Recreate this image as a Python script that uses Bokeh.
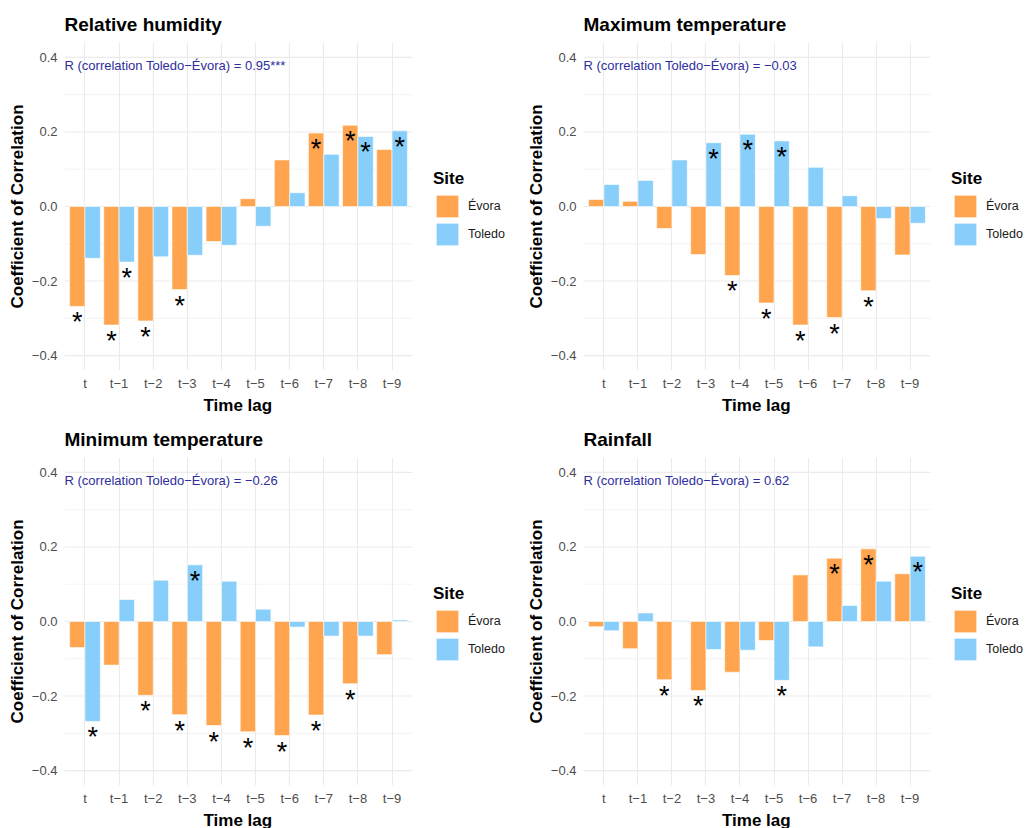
from bokeh.plotting import figure
from bokeh.models import Range1d, FixedTicker, Legend, LegendItem, Label, ColumnDataSource, Title
from bokeh.layouts import column, row
from bokeh.core.properties import value
from bokeh.embed import file_html
from bokeh.resources import INLINE

# ---------------- data ----------------
lags = ["t", "t\u22121", "t\u22122", "t\u22123", "t\u22124",
        "t\u22125", "t\u22126", "t\u22127", "t\u22128", "t\u22129"]
sites = ["\u00c9vora", "Toledo"]

titles = ["Relative humidity", "Maximum temperature",
          "Minimum temperature", "Rainfall"]
r_texts = ["R (correlation Toledo\u2212\u00c9vora) = 0.95***",
           "R (correlation Toledo\u2212\u00c9vora) = \u22120.03",
           "R (correlation Toledo\u2212\u00c9vora) = \u22120.26",
           "R (correlation Toledo\u2212\u00c9vora) = 0.62"]

hum_evora = [-0.268, -0.318, -0.307, -0.223, -0.094, 0.021, 0.125, 0.197, 0.218, 0.153]
hum_toledo = [-0.139, -0.149, -0.135, -0.131, -0.104, -0.053, 0.037, 0.140, 0.188, 0.203]
hum_sig_evora = [1, 1, 1, 1, 0, 0, 0, 1, 1, 0]
hum_sig_toledo = [0, 1, 0, 0, 0, 0, 0, 0, 1, 1]

tmax_evora = [0.019, 0.014, -0.059, -0.129, -0.185, -0.259, -0.318, -0.298, -0.226, -0.130]
tmax_toledo = [0.059, 0.070, 0.125, 0.171, 0.194, 0.176, 0.105, 0.029, -0.032, -0.045]
tmax_sig_evora = [0, 0, 0, 0, 1, 1, 1, 1, 1, 0]
tmax_sig_toledo = [0, 0, 0, 1, 1, 1, 0, 0, 0, 0]

tmin_evora = [-0.070, -0.117, -0.198, -0.250, -0.279, -0.296, -0.306, -0.251, -0.167, -0.089]
tmin_toledo = [-0.268, 0.059, 0.111, 0.152, 0.108, 0.033, -0.015, -0.039, -0.039, 0.004]
tmin_sig_evora = [0, 0, 1, 1, 1, 1, 1, 1, 1, 0]
tmin_sig_toledo = [1, 0, 0, 1, 0, 0, 0, 0, 0, 0]

rain_evora = [-0.014, -0.073, -0.156, -0.185, -0.136, -0.051, 0.125, 0.170, 0.195, 0.128]
rain_toledo = [-0.025, 0.023, 0.002, -0.075, -0.077, -0.158, -0.068, 0.043, 0.108, 0.175]
rain_sig_evora = [0, 0, 1, 1, 0, 0, 0, 1, 1, 0]
rain_sig_toledo = [0, 0, 0, 0, 0, 1, 0, 0, 0, 1]

y_ticks = [-0.4, -0.2, 0.0, 0.2, 0.4]
y_tick_labels = ["\u22120.4", "\u22120.2", "0.0", "0.2", "0.4"]
y_minor = [-0.3, -0.1, 0.1, 0.3]

# ---------------- style ----------------
FONT = "Liberation Sans"
C_EVORA = "#FFA54F"
C_TOLEDO = "#87CEFA"
GRID = "#EBEBEB"
BAR_W = 0.45
STAR_OFF = 0.043
X0, X1 = 0.4, 10.6          # data x extent (ggplot expansion of 0.6)
Y0, Y1 = -0.44, 0.44
FH = 328                    # frame height


def make_panel(title, ev, to, sev, sto, rtext, data_w, frame_w, bl, bt, bb,
               leg_x, leg_y):
    n = len(lags)
    xs = [float(i + 1) for i in range(n)]
    x_end = X0 + (X1 - X0) * frame_w / data_w
    p = figure(frame_width=frame_w, frame_height=FH,
               x_range=Range1d(X0, x_end), y_range=Range1d(Y0, Y1),
               output_backend="svg", toolbar_location=None,
               min_border_left=bl, min_border_right=0,
               min_border_top=bt, min_border_bottom=bb)
    p.outline_line_color = None
    p.background_fill_color = "white"
    p.border_fill_color = "white"

    p.title.text = title
    p.title.text_font = FONT
    p.title.text_font_size = "19px"
    p.title.text_font_style = "bold"
    p.title.text_color = "black"
    p.title.align = "left"
    p.title.standoff = 16

    xt = FixedTicker(ticks=xs)
    yt = FixedTicker(ticks=y_ticks, minor_ticks=y_minor)
    p.xaxis.ticker = xt
    p.yaxis.ticker = yt
    p.xgrid.ticker = xt
    p.ygrid.visible = False
    p.xaxis.major_label_overrides = {x: lab for x, lab in zip(xs, lags)}
    p.yaxis.major_label_overrides = {t: lab for t, lab in zip(y_ticks, y_tick_labels)}

    for ax in (p.xaxis[0], p.yaxis[0]):
        ax.axis_line_color = None
        ax.major_tick_line_color = None
        ax.minor_tick_line_color = None
        ax.major_tick_out = 0
        ax.major_tick_in = 0
        ax.minor_tick_out = 0
        ax.minor_tick_in = 0
        ax.major_label_text_font = FONT
        ax.major_label_text_font_size = "13px"
        ax.major_label_text_color = "#4D4D4D"
        ax.axis_label_text_font = FONT
        ax.axis_label_text_font_size = "17px"
        ax.axis_label_text_font_style = "bold"
        ax.axis_label_text_color = "black"
    p.yaxis.axis_label = "Coefficient of Correlation"
    p.xaxis.major_label_standoff = 5
    p.yaxis.major_label_standoff = 7
    p.yaxis.axis_label_standoff = 2

    # x axis title, centred under the data area
    p.add_layout(Title(text="Time lag", align="left", offset=data_w / 2 - 35,
                       text_font=FONT, text_font_size="17px", text_font_style="bold",
                       text_color="black", standoff=0), "below")

    p.xgrid.grid_line_color = GRID
    p.xgrid.grid_line_width = 1.1

    # horizontal grid lines limited to the data area
    p.segment(x0=[X0] * len(y_minor), x1=[X1] * len(y_minor), y0=y_minor, y1=y_minor,
              line_color=GRID, line_width=0.6)
    p.segment(x0=[X0] * len(y_ticks), x1=[X1] * len(y_ticks), y0=y_ticks, y1=y_ticks,
              line_color=GRID, line_width=1.1)

    x_ev = [x - BAR_W / 2 for x in xs]
    x_to = [x + BAR_W / 2 for x in xs]
    r_ev = p.vbar(x=x_ev, top=ev, bottom=0, width=BAR_W,
                  fill_color=C_EVORA, line_color="white", line_width=0.6)
    r_to = p.vbar(x=x_to, top=to, bottom=0, width=BAR_W,
                  fill_color=C_TOLEDO, line_color="white", line_width=0.6)

    sx, sy = [], []
    for i in range(n):
        if sev[i]:
            sx.append(x_ev[i])
            sy.append(ev[i] - STAR_OFF)
        if sto[i]:
            sx.append(x_to[i])
            sy.append(to[i] - STAR_OFF)
    src = ColumnDataSource(dict(x=sx, y=sy, t=["*"] * len(sx)))
    p.text(x="x", y="y", text="t", source=src, text_font=value(FONT),
           text_font_size=value("27px"), text_color="black",
           text_align="center", text_baseline="middle")

    p.add_layout(Label(x=X0, y=0.4, y_offset=-8, text=rtext, text_font=FONT,
                       text_font_size="13px", text_color="#2E2E9E",
                       text_align="left", text_baseline="middle"))

    leg = Legend(items=[LegendItem(label=sites[0], renderers=[r_ev]),
                        LegendItem(label=sites[1], renderers=[r_to])],
                 title="Site", location=(leg_x, leg_y))
    leg.title_text_font = FONT
    leg.title_text_font_size = "17px"
    leg.title_text_font_style = "bold"
    leg.title_text_color = "black"
    leg.title_standoff = 3
    leg.label_text_font = FONT
    leg.label_text_font_size = "12.5px"
    leg.label_text_color = "#1A1A1A"
    leg.glyph_width = 28
    leg.glyph_height = 28
    leg.label_height = 25
    leg.spacing = -3
    leg.label_standoff = 7
    leg.padding = 0
    leg.margin = 0
    leg.border_line_color = None
    leg.background_fill_alpha = 0
    p.add_layout(leg)
    return p


p1 = make_panel(titles[0], hum_evora, hum_toledo, hum_sig_evora, hum_sig_toledo, r_texts[0],
                348, 454, 64, 42, 43, 369, 122)
p2 = make_panel(titles[1], tmax_evora, tmax_toledo, tmax_sig_evora, tmax_sig_toledo, r_texts[1],
                347, 443, 65, 42, 43, 368, 122)
p3 = make_panel(titles[2], tmin_evora, tmin_toledo, tmin_sig_evora, tmin_sig_toledo, r_texts[2],
                348, 454, 64, 43, 43, 369, 122)
p4 = make_panel(titles[3], rain_evora, rain_toledo, rain_sig_evora, rain_sig_toledo, r_texts[3],
                347, 443, 65, 43, 43, 368, 122)

layout = column(row(p1, p2), row(p3, p4))
open("out.html", "w").write(file_html(layout, INLINE))
